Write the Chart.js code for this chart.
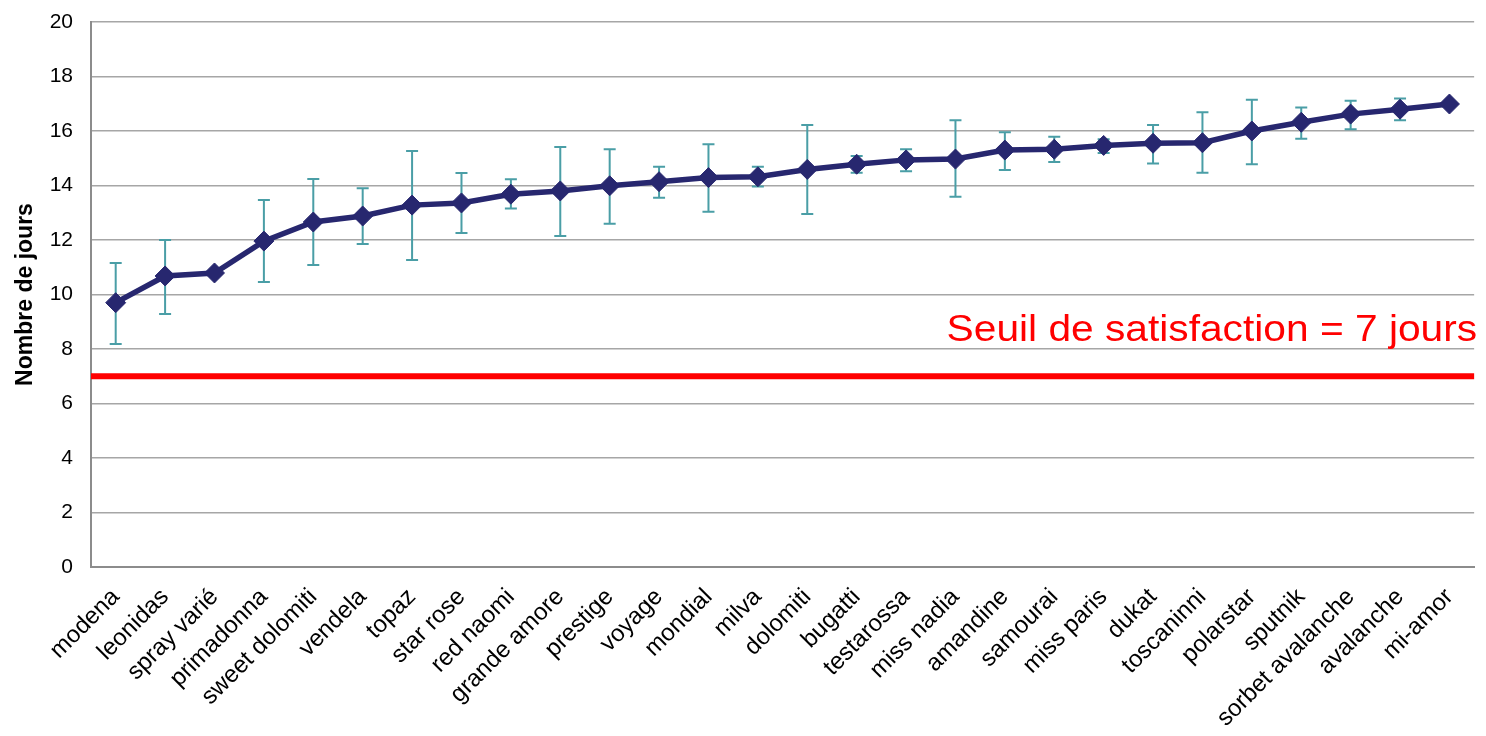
<!DOCTYPE html>
<html>
<head>
<meta charset="utf-8">
<script src="https://cdn.jsdelivr.net/npm/chart.js@4.4.1/dist/chart.umd.min.js"></script>
<style>
  html, body { margin: 0; padding: 0; background: #ffffff; }
  #wrap { width: 1486px; height: 736px; position: relative; }
</style>
</head>
<body>
<div id="wrap"><canvas id="c" width="1486" height="736"></canvas></div>
<script>
const categories = ["modena","leonidas","spray varié","primadonna","sweet dolomiti","vendela","topaz","star rose","red naomi","grande amore","prestige","voyage","mondial","milva","dolomiti","bugatti","testarossa","miss nadia","amandine","samourai","miss paris","dukat","toscaninni","polarstar","sputnik","sorbet avalanche","avalanche","mi-amor"];
const meanDays = [9.7,10.68,10.79,11.96,12.66,12.88,13.28,13.36,13.68,13.8,13.99,14.14,14.29,14.32,14.59,14.78,14.94,14.97,15.3,15.33,15.47,15.55,15.57,16.0,16.32,16.62,16.8,16.99];
const upperDays = [11.16,12.0,null,13.47,14.24,13.9,15.27,14.46,14.23,15.41,15.33,14.69,15.51,14.69,16.22,15.08,15.33,16.39,15.95,15.79,15.7,16.22,16.69,17.15,16.86,17.11,17.19,null];
const lowerDays = [8.18,9.28,null,10.46,11.08,11.85,11.27,12.26,13.16,12.15,12.6,13.55,13.04,13.96,12.95,14.47,14.52,13.59,14.57,14.86,15.19,14.81,14.47,14.78,15.72,16.06,16.39,null];
const yTicks = [0,2,4,6,8,10,12,14,16,18,20];
const thresholdValue = 7;
const thresholdLabel = "Seuil de satisfaction = 7 jours";
const yTitle = "Nombre de jours";

const FONT = "'Liberation Sans', Arial, sans-serif";

const errorBarPlugin = {
  id: 'errorBars',
  beforeDatasetsDraw(chart) {
    const ctx = chart.ctx;
    const xs = chart.scales.x, ys = chart.scales.y;
    const area = chart.chartArea;
    ctx.save();
    // threshold line
    const yT = ys.getPixelForValue(thresholdValue);
    ctx.strokeStyle = '#ff0000';
    ctx.lineWidth = 6;
    ctx.beginPath();
    ctx.moveTo(area.left, yT);
    ctx.lineTo(area.right, yT);
    ctx.stroke();
    // threshold text (slightly widened like the reference)
    ctx.save();
    ctx.fillStyle = '#ff0000';
    ctx.font = "37px " + FONT;
    ctx.textAlign = 'right';
    ctx.textBaseline = 'alphabetic';
    const tx = area.right + 3, ty = ys.getPixelForValue(8.3);
    ctx.translate(tx, ty);
    ctx.scale(1.1, 1);
    ctx.fillText(thresholdLabel, 0, 0);
    ctx.restore();
    // error bars
    ctx.strokeStyle = '#4a9ea6';
    ctx.lineWidth = 2;
    const cap = 6;
    categories.forEach((c, i) => {
      if (upperDays[i] == null || lowerDays[i] == null) return;
      const x = xs.getPixelForValue(i);
      const yu = ys.getPixelForValue(upperDays[i]);
      const yl = ys.getPixelForValue(lowerDays[i]);
      ctx.beginPath();
      ctx.moveTo(x, yu); ctx.lineTo(x, yl);
      ctx.moveTo(x - cap, yu); ctx.lineTo(x + cap, yu);
      ctx.moveTo(x - cap, yl); ctx.lineTo(x + cap, yl);
      ctx.stroke();
    });
    ctx.restore();
  }
};

new Chart(document.getElementById('c'), {
  type: 'line',
  data: {
    labels: categories,
    datasets: [{
      data: meanDays,
      borderColor: '#27276f',
      backgroundColor: '#27276f',
      borderWidth: 5.5,
      pointStyle: 'rectRot',
      pointRadius: 10,
      pointHoverRadius: 10,
      pointBorderWidth: 1,
      pointBorderColor: '#27276f',
      pointBackgroundColor: '#27276f',
      tension: 0,
      clip: false
    }]
  },
  options: {
    responsive: false,
    animation: false,
    events: [],
    layout: { padding: { top: 22, right: 6, left: 0, bottom: 0 } },
    plugins: { legend: { display: false }, tooltip: { enabled: false } },
    scales: {
      x: {
        offset: true,
        grid: { display: false, drawTicks: false },
        border: { display: true, color: '#8c8c8c', width: 2 },
        ticks: {
          autoSkip: false,
          minRotation: 45, maxRotation: 45,
          color: '#000000',
          padding: 16,
          font: { family: FONT, size: 24 }
        },
        afterFit(scale) { scale.height = 169; }
      },
      y: {
        min: 0, max: 20,
        afterBuildTicks(scale) { scale.ticks = yTicks.map(v => ({ value: v })); },
        grid: { color: '#a6a6a6', lineWidth: 1.5, drawTicks: false },
        border: { display: true, color: '#8c8c8c', width: 2 },
        ticks: {
          color: '#000000',
          padding: 18,
          font: { family: FONT, size: 21 }
        },
        title: {
          display: true,
          text: yTitle,
          color: '#000000',
          font: { family: FONT, size: 23, weight: 'bold' },
          padding: { top: 12, bottom: 0 }
        },
        afterFit(scale) { scale.width = 91; scale.paddingTop = 0; scale.paddingBottom = 0; }
      }
    }
  },
  plugins: [errorBarPlugin]
});
</script>
</body>
</html>
